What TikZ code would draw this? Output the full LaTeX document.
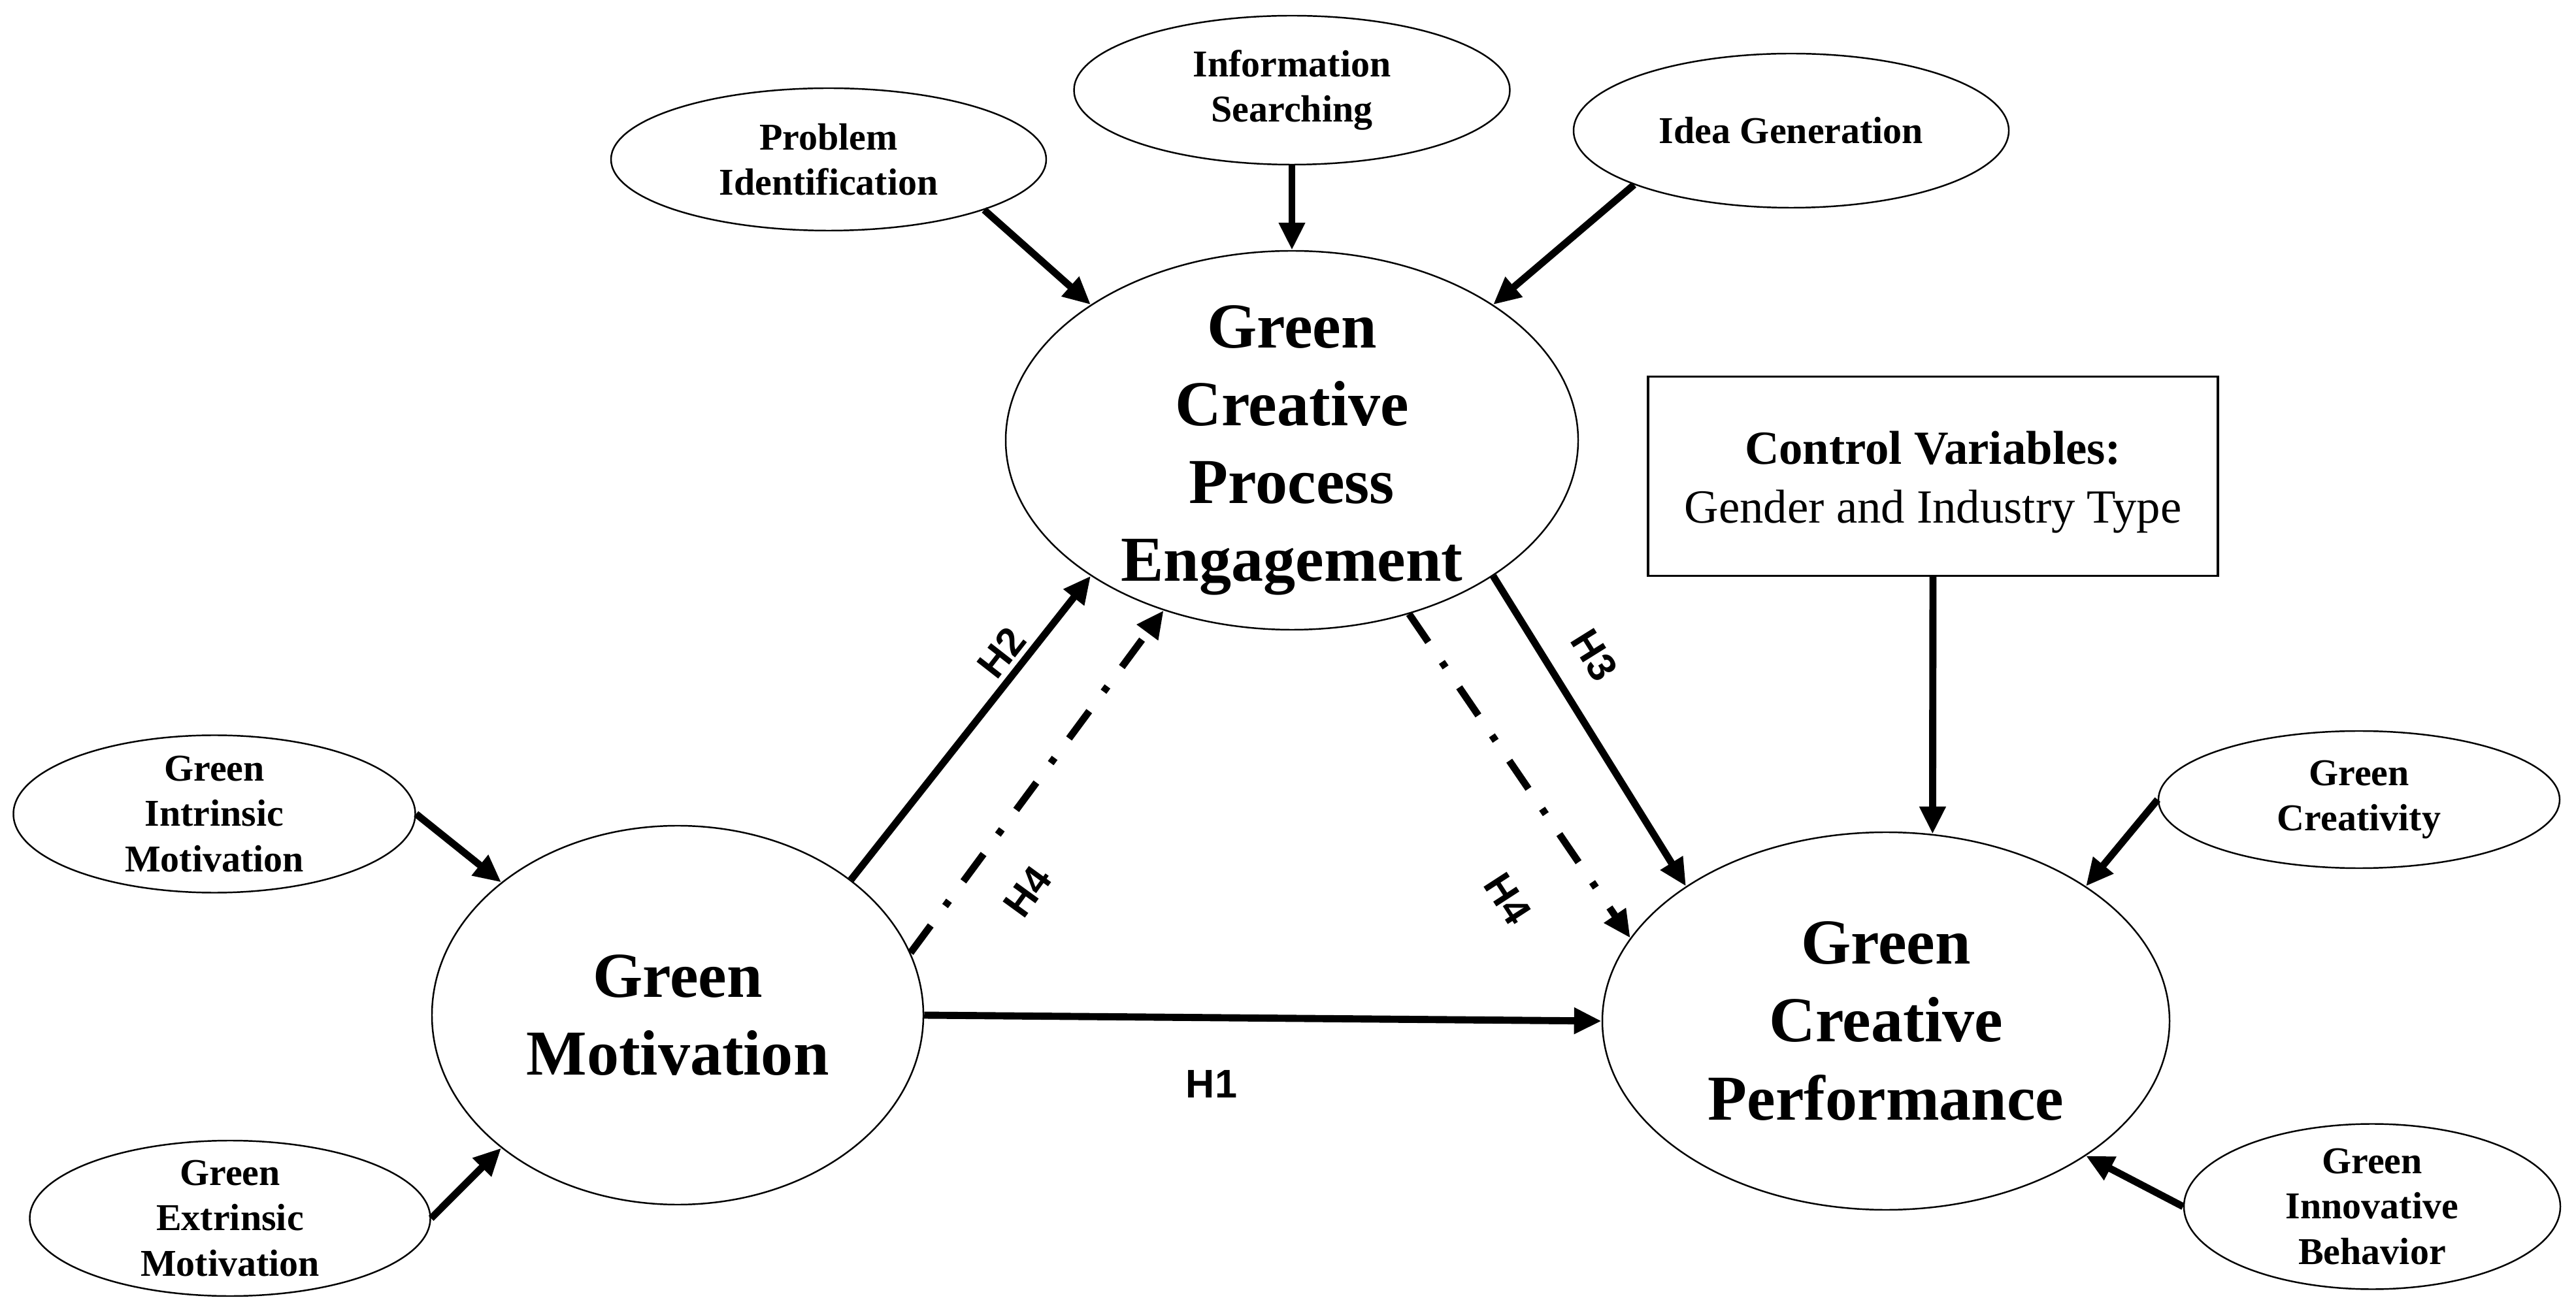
\documentclass[tikz,border=0pt]{standalone}
\usepackage{fontspec}
\setmainfont{Liberation Serif}
\newfontfamily\hfont{Liberation Sans}
\usetikzlibrary{shapes.geometric,arrows.meta}
\begin{document}
\begin{tikzpicture}[
  bigell/.style={ellipse, draw, line width=0.7pt, inner xsep=0pt, inner ysep=-1cm, align=center,
    font=\bfseries\fontsize{27.9}{33.9}\selectfont},
  smallell/.style={ellipse, draw, line width=0.7pt, inner xsep=0pt, inner ysep=-0.5cm, align=center,
    font=\bfseries\fontsize{16.5}{19.7}\selectfont},
  arr/.style={line width=3.1pt, -{Triangle[length=0.42cm,width=0.38cm]}},
  ddarr/.style={arr, dash pattern=on 0.52cm off 0.37cm on 0.1cm off 0.37cm},
  hlab/.style={font=\hfont\bfseries\fontsize{17.4}{20}\selectfont, inner sep=0pt}
]
\useasboundingbox (0,0) rectangle (39.42,-20.13);
\fill[white] (0,0) rectangle (39.42,-20.13);

% indicator ellipses
\node[smallell, minimum width=6.66cm, minimum height=2.18cm] (pi) at (12.68,-2.44) {Problem\\Identification};
\node[smallell, minimum width=6.67cm, minimum height=2.28cm] (is) at (19.77,-1.38) {Information\\Searching};
\node[smallell, minimum width=6.66cm, minimum height=2.36cm] (ig) at (27.41,-2.00) {Idea Generation};
\node[smallell, minimum width=6.15cm, minimum height=2.41cm] (gim) at (3.28,-12.46) {Green\\Intrinsic\\Motivation};
\node[smallell, minimum width=6.13cm, minimum height=2.38cm] (gem) at (3.52,-18.65) {Green\\Extrinsic\\Motivation};
\node[smallell, minimum width=6.14cm, minimum height=2.10cm] (gc) at (36.10,-12.24) {Green\\Creativity};
\node[smallell, minimum width=5.76cm, minimum height=2.53cm] (gib) at (36.30,-18.47) {Green\\Innovative\\Behavior};

% constructs
\node[bigell, minimum width=8.76cm, minimum height=5.80cm] (gcpe) at (19.77,-6.74) {\rule{0pt}{0.96cm}Green\\Creative\\Process\\Engagement};
\node[bigell, minimum width=7.52cm, minimum height=5.80cm] (gm) at (10.37,-15.54) {Green\\Motivation};
\node[bigell, minimum width=8.68cm, minimum height=5.78cm] (gcp) at (28.86,-15.63) {Green\\Creative\\Performance};

% control box
\node[draw, line width=0.9pt, minimum width=8.72cm, minimum height=3.05cm, align=center,
  font=\fontsize{20.7}{25.8}\selectfont] (ctrl) at (29.58,-7.29)
  {\rule{0pt}{0.69cm}\textbf{Control Variables:}\\Gender and Industry Type};

% indicator arrows
\draw[arr] (pi.-18) -- (gcpe.146);
\draw[arr] (is.south) -- (gcpe.north);
\draw[arr] (ig.199) -- (gcpe.34);
\draw[arr] (gim.east) -- (gm.143);
\draw[arr] (gem.east) -- (gm.217);
\draw[arr] (gc.west) -- (gcp.34);
\draw[arr] (gib.west) -- (gcp.-34);
\draw[arr] (ctrl.south) -- (gcp.76);

% hypotheses
\draw[arr] (gm.38) -- (gcpe.214);
\draw[ddarr] (gm.15) -- (gcpe.233);
\draw[arr] (gcpe.-34) -- (gcp.146);
\draw[ddarr] (gcpe.-56) -- (gcp.162);
\draw[arr] (gm.east) -- (gcp.west);

\node[hlab, rotate=52] (h2) at (15.33,-9.99) {H2};
\node[hlab, rotate=54] (h4a) at (15.72,-13.65) {H4};
\node[hlab, rotate=-58] (h3) at (24.40,-10.03) {H3};
\node[hlab, rotate=-57] (h4b) at (23.07,-13.76) {H4};
\node[hlab] (h1) at (18.54,-16.59) {H1};
\end{tikzpicture}
\end{document}
